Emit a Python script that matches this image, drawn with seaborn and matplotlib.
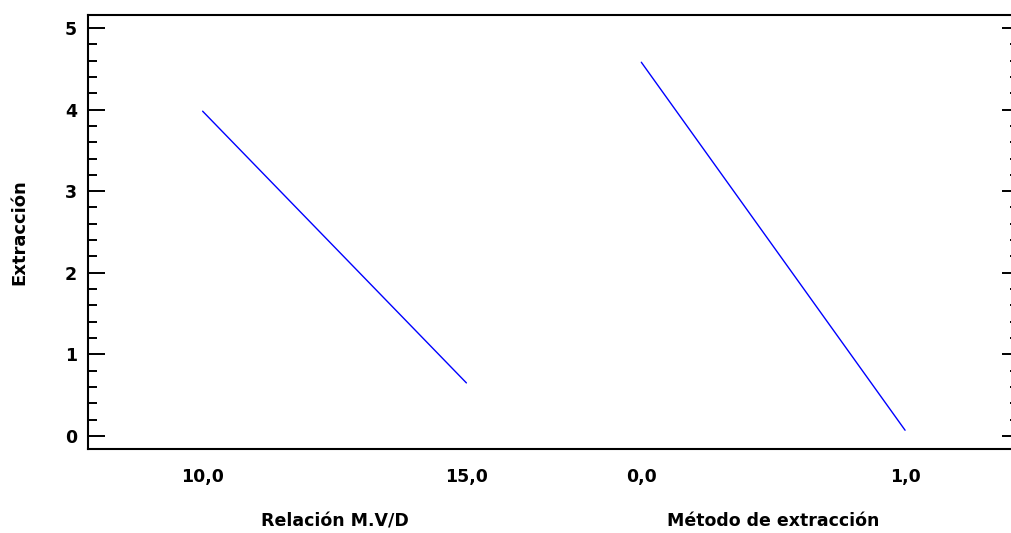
import matplotlib.pyplot as plt
import pandas as pd
import seaborn as sns
from matplotlib.ticker import MultipleLocator

# Main effects plot for Extracción
factors = ['Relación M.V/D', 'Método de extracción']
level_low = [10.0, 0.0]
level_high = [15.0, 1.0]
effect_low = [3.98, 4.58]
effect_high = [0.65, 0.07]

slot = 1.663  # spacing between factor panels on the shared x axis

rows = []
for i, f in enumerate(factors):
    rows.append({'factor': f, 'pos': i * slot, 'value': effect_low[i]})
    rows.append({'factor': f, 'pos': i * slot + 1, 'value': effect_high[i]})
df = pd.DataFrame(rows)

sns.set_style('white')
plt.rcParams['font.family'] = ['DejaVu Sans']
plt.rcParams['font.weight'] = 'bold'
plt.rcParams['text.color'] = 'black'
plt.rcParams['axes.labelcolor'] = 'black'
plt.rcParams['xtick.color'] = 'black'
plt.rcParams['ytick.color'] = 'black'

fig = plt.figure(figsize=(10.12, 5.33), dpi=100)
ax = fig.add_axes([0.08696, 0.1582, 0.92, 0.8137])

sns.lineplot(data=df, x='pos', y='value', units='factor', estimator=None,
             color='#0000ff', lw=1.0, ax=ax)

ax.set_xlim(-0.4345, slot + 1 + 0.432)
ax.set_ylim(-0.156, 5.159)

# x ticks: factor levels
ticks, labels = [], []
for i in range(len(factors)):
    ticks += [i * slot, i * slot + 1]
    labels += [f'{level_low[i]:.1f}'.replace('.', ','), f'{level_high[i]:.1f}'.replace('.', ',')]
ax.set_xticks(ticks)
ax.set_xticklabels(labels, fontsize=12.5, fontweight='bold', color='black')
ax.tick_params(axis='x', length=0, pad=14)

ax.yaxis.set_major_locator(MultipleLocator(1))
ax.yaxis.set_minor_locator(MultipleLocator(0.2))
ax.tick_params(axis='y', which='both', direction='in', left=True, right=True,
               width=1.4, color='black', labelcolor='black', labelsize=12.5, pad=8)
ax.tick_params(axis='y', which='major', length=12.2)
ax.tick_params(axis='y', which='minor', length=6.5)
for lab in ax.get_yticklabels():
    lab.set_fontweight('bold')

for side in ['left', 'top', 'bottom']:
    ax.spines[side].set_linewidth(1.5)
    ax.spines[side].set_color('black')
ax.spines['right'].set_visible(False)

ax.set_xlabel('')
ax.set_ylabel('Extracción', fontsize=13, fontweight='bold', va='center', color='black')
ax.yaxis.set_label_coords(-0.074, 0.5)

for i, f in enumerate(factors):
    ax.text(i * slot + 0.5, -0.167, f, transform=ax.get_xaxis_transform(),
            ha='center', va='center', fontsize=12.5, fontweight='bold', color='black')

fig.savefig('out.png', dpi=100)
